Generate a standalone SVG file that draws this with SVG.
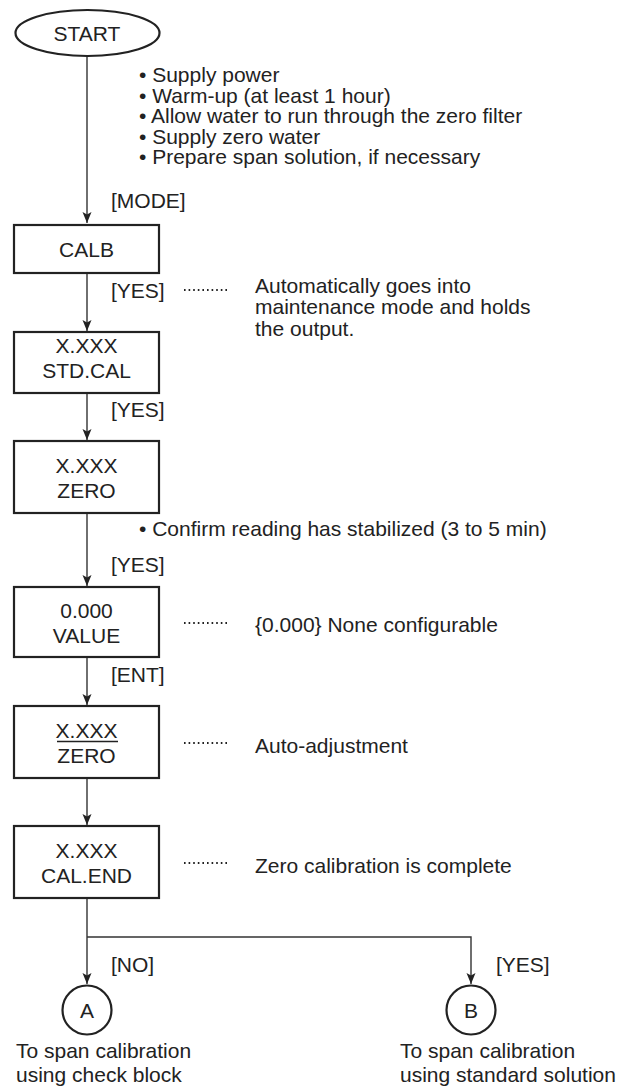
<svg xmlns="http://www.w3.org/2000/svg" width="620" height="1090" viewBox="0 0 620 1090">
<defs>
<style>
text{font-family:"Liberation Sans",Arial,sans-serif;font-size:21px;fill:#222}
.c{text-anchor:middle}
.box{fill:#fff;stroke:#222;stroke-width:2.2}
.ln{fill:none;stroke:#333;stroke-width:1.4}
.dot{fill:none;stroke:#222;stroke-width:2;stroke-dasharray:1.6 3}
</style>
<marker id="ah" markerUnits="userSpaceOnUse" markerWidth="12" markerHeight="10" refX="11" refY="4.5" orient="auto" viewBox="0 0 12 9">
<path d="M0,0 L11,4.5 L0,9 L2.5,4.5 Z" fill="#222"/>
</marker>
</defs>
<rect width="620" height="1090" fill="#fff"/>

<g id="connectors">
<line class="ln" x1="87" y1="56" x2="87" y2="223" marker-end="url(#ah)"/>
<line class="ln" x1="87" y1="273" x2="87" y2="331" marker-end="url(#ah)"/>
<line class="ln" x1="87" y1="393" x2="87" y2="440" marker-end="url(#ah)"/>
<line class="ln" x1="87" y1="513" x2="87" y2="586" marker-end="url(#ah)"/>
<line class="ln" x1="87" y1="657" x2="87" y2="705" marker-end="url(#ah)"/>
<line class="ln" x1="87" y1="778" x2="87" y2="825" marker-end="url(#ah)"/>
<line class="ln" x1="87" y1="898" x2="87" y2="984" marker-end="url(#ah)"/>
<polyline class="ln" points="87,937 471,937 471,984" marker-end="url(#ah)"/>
</g>

<g id="start">
<ellipse cx="87.5" cy="33" rx="72" ry="23" fill="#fff" stroke="#222" stroke-width="2.2"/>
<text class="c" x="87" y="41">START</text>
</g>

<g id="prep-notes">
<text x="139" y="82">• Supply power</text>
<text x="139" y="102.5">• Warm-up (at least 1 hour)</text>
<text x="139" y="123">• Allow water to run through the zero filter</text>
<text x="139" y="143.5">• Supply zero water</text>
<text x="139" y="164">• Prepare span solution, if necessary</text>
<text x="111" y="208">[MODE]</text>
</g>

<g id="calb">
<rect class="box" x="14" y="225" width="145" height="48"/>
<text class="c" x="86.5" y="257">CALB</text>
</g>
<g id="calb-note">
<text x="111" y="298">[YES]</text>
<line class="dot" x1="184" y1="290" x2="228" y2="290"/>
<text x="255" y="293">Automatically goes into</text>
<text x="255" y="314">maintenance mode and holds</text>
<text x="255" y="335.5">the output.</text>
</g>

<g id="stdcal">
<rect class="box" x="14" y="332" width="145" height="61"/>
<text class="c" x="86.5" y="353">X.XXX</text>
<text class="c" x="86.5" y="378">STD.CAL</text>
</g>
<text x="111" y="417">[YES]</text>

<g id="zero">
<rect class="box" x="14" y="441" width="145" height="72"/>
<text class="c" x="86.5" y="473">X.XXX</text>
<text class="c" x="86.5" y="498">ZERO</text>
</g>
<g id="zero-note">
<text x="139" y="536">• Confirm reading has stabilized (3 to 5 min)</text>
<text x="111" y="572">[YES]</text>
</g>

<g id="value">
<rect class="box" x="14" y="587" width="145" height="70"/>
<text class="c" x="86.5" y="618">0.000</text>
<text class="c" x="86.5" y="643">VALUE</text>
</g>
<g id="value-note">
<line class="dot" x1="184" y1="623" x2="228" y2="623"/>
<text x="255" y="632">{0.000} None configurable</text>
<text x="111" y="682">[ENT]</text>
</g>

<g id="autoadj">
<rect class="box" x="14" y="706" width="145" height="72"/>
<text class="c" x="86.5" y="738">X.XXX</text>
<line x1="57" y1="741.5" x2="118" y2="741.5" stroke="#222" stroke-width="1.4"/>
<text class="c" x="86.5" y="763">ZERO</text>
</g>
<g id="autoadj-note">
<line class="dot" x1="184" y1="743" x2="228" y2="743"/>
<text x="255" y="753">Auto-adjustment</text>
</g>

<g id="calend">
<rect class="box" x="14" y="826" width="145" height="72"/>
<text class="c" x="86.5" y="858">X.XXX</text>
<text class="c" x="86.5" y="883">CAL.END</text>
</g>
<g id="calend-note">
<line class="dot" x1="184" y1="863" x2="228" y2="863"/>
<text x="255" y="873">Zero calibration is complete</text>
</g>

<g id="branch-labels">
<text x="111" y="972">[NO]</text>
<text x="496" y="972">[YES]</text>
</g>

<g id="conn-a">
<circle cx="87" cy="1010" r="24.5" fill="#fff" stroke="#222" stroke-width="2.2"/>
<text class="c" x="87" y="1018">A</text>
<text x="16" y="1058">To span calibration</text>
<text x="16" y="1082">using check block</text>
</g>

<g id="conn-b">
<circle cx="471" cy="1010" r="24.5" fill="#fff" stroke="#222" stroke-width="2.2"/>
<text class="c" x="471" y="1018">B</text>
<text x="400" y="1058">To span calibration</text>
<text x="400" y="1082">using standard solution</text>
</g>
</svg>
